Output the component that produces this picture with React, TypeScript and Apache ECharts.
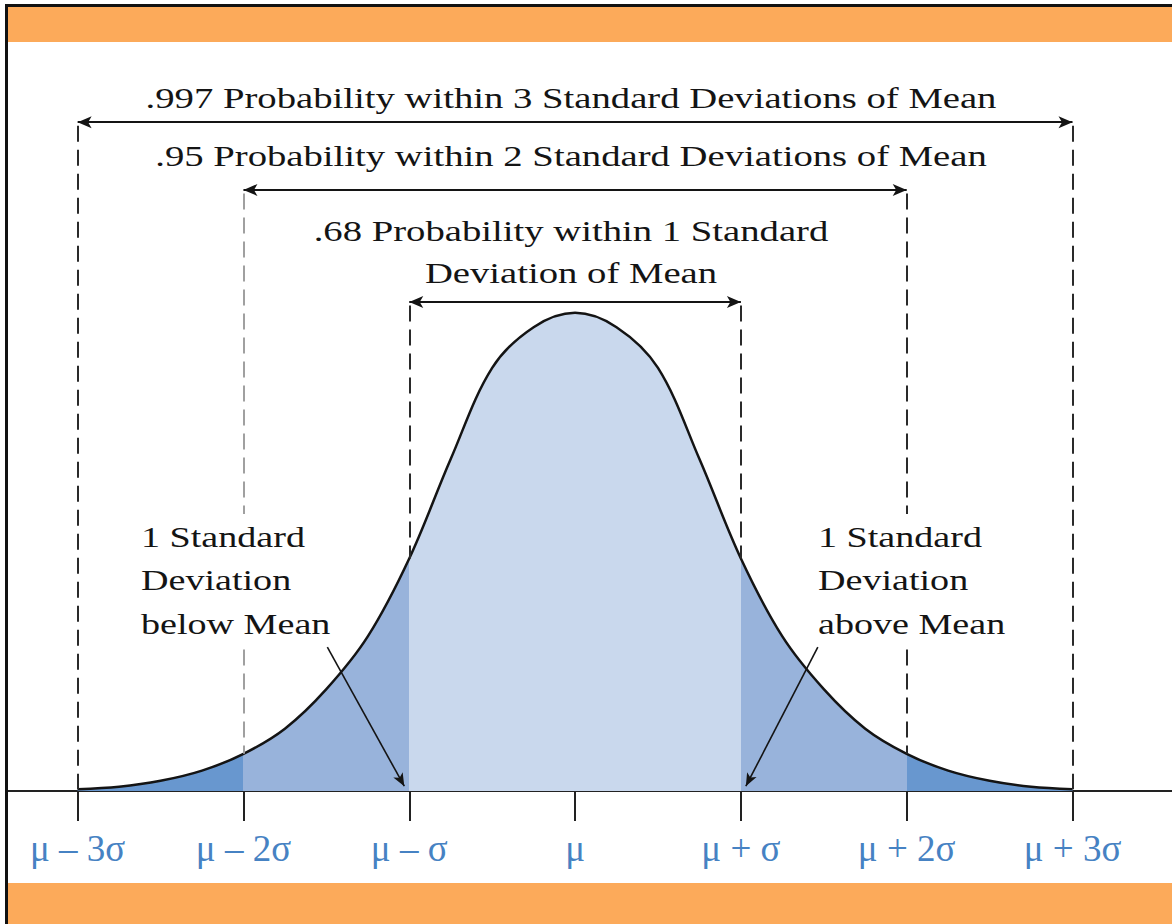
import { useEffect, useRef } from "react";
import * as echarts from "echarts";

// Curve sampled in units of standard deviations from the mean.
const SIGMA_X = [-3, -2.75, -2.5, -2.25, -2, -1.75, -1.5, -1.25, -1, -0.75, -0.5, -0.25, 0, 0.25, 0.5, 0.75, 1, 1.25, 1.5, 1.75, 2, 2.25, 2.5, 2.75, 3];
const DENSITY = [0.0015, 0.0035, 0.0085, 0.017, 0.031, 0.052, 0.085, 0.129, 0.194, 0.277, 0.353, 0.387, 0.399, 0.387, 0.353, 0.277, 0.194, 0.129, 0.085, 0.052, 0.031, 0.017, 0.0085, 0.0035, 0.0015];

const TICK_VALUES = [-3, -2, -1, 0, 1, 2, 3];
const TICK_LABELS = ["μ – 3σ", "μ – 2σ", "μ – σ", "μ", "μ + σ", "μ + 2σ", "μ + 3σ"];

// Bracketed spans: half-width in σ, arrow height, caption.
const SPAN_WIDTHS = [3, 2, 1];
const SPAN_LEVELS = [0.558, 0.5015, 0.408];
const SPAN_TITLES = [
  ".997 Probability within 3 Standard Deviations of Mean",
  ".95 Probability within 2 Standard Deviations of Mean",
  ".68 Probability within 1 Standard\nDeviation of Mean",
];

const SIDE_NOTES = ["1 Standard\nDeviation\nbelow Mean", "1 Standard\nDeviation\nabove Mean"];
const POINTER_FROM = [[-1.494, 0.12], [1.464, 0.12]];
const POINTER_TO = [[-1.03, 0.004], [1.03, 0.004]];

const AXIS_MIN = -3.42;
const AXIS_MAX = 3.6;
const Y_MAX = 0.66;

const SERIF = '"Liberation Serif", "Times New Roman", serif';
const INK = "#141414";
const ORANGE = "#fcaa5a";

export default function App() {
  const ref = useRef<HTMLDivElement>(null);

  useEffect(() => {
    if (!ref.current) return;
    const chart = echarts.init(ref.current, null, { renderer: "svg" });
    const curve = SIGMA_X.map((x, i) => [x, DENSITY[i]]);
    const heightAt = (x: number) => DENSITY[SIGMA_X.indexOf(x)];

    const markData: any[] = [];
    SPAN_WIDTHS.forEach((w, i) => {
      const lvl = SPAN_LEVELS[i];
      // double-headed arrow
      markData.push([
        { coord: [-w, lvl], symbol: "arrow", symbolSize: [9, 14], lineStyle: { type: "solid", color: INK, width: 2 } },
        { coord: [w, lvl], symbol: "arrow", symbolSize: [9, 14] },
      ]);
      // dashed guides down to the curve
      [-w, w].forEach((x) => {
        markData.push([
          {
            coord: [x, lvl - 0.003],
            symbol: "none",
            lineStyle: { type: [16, 8], color: x === -2 ? "#a0a0a0" : "#2a2a2a", width: 2 },
          },
          { coord: [x, heightAt(x)], symbol: "none" },
        ]);
      });
    });
    POINTER_FROM.forEach((p, i) => {
      markData.push([
        { coord: p, symbol: "none", lineStyle: { type: "solid", color: INK, width: 1.6 } },
        { coord: POINTER_TO[i], symbol: "arrow", symbolSize: [8, 13] },
      ]);
    });

    const titleY = [98, 156, 252];
    const graphic: any[] = [
      { type: "rect", shape: { x: 5, y: 4, width: 1167, height: 3 }, style: { fill: "#111" }, z: 20 },
      { type: "rect", shape: { x: 5, y: 4, width: 3, height: 920 }, style: { fill: "#111" }, z: 20 },
      { type: "rect", shape: { x: 8, y: 7, width: 1164, height: 35 }, style: { fill: ORANGE }, z: 20 },
      { type: "rect", shape: { x: 8, y: 883, width: 1164, height: 41 }, style: { fill: ORANGE }, z: 20 },
      ...SPAN_TITLES.map((t, i) => ({
        type: "text",
        x: 571,
        y: titleY[i],
        scaleX: 1.29,
        z: 30,
        style: { text: t, fill: INK, font: `30px ${SERIF}`, align: "center", verticalAlign: "middle", lineHeight: 42 },
      })),
      ...SIDE_NOTES.map((t, i) => ({
        type: "text",
        x: i === 0 ? 141 : 818,
        y: 580,
        scaleX: 1.27,
        z: 30,
        style: {
          text: t,
          fill: INK,
          font: `30px ${SERIF}`,
          align: "left",
          verticalAlign: "middle",
          lineHeight: 44,
          backgroundColor: "#fff",
        },
      })),
    ];

    chart.setOption({
      animation: false,
      backgroundColor: "#fff",
      grid: { left: 8, right: 0, top: 0, bottom: 133, containLabel: false },
      xAxis: {
        type: "value",
        min: AXIS_MIN,
        max: AXIS_MAX,
        splitLine: { show: false },
        axisLine: { lineStyle: { color: "#222", width: 2 } },
        axisTick: { customValues: TICK_VALUES, length: 30, lineStyle: { color: "#222", width: 2 } },
        axisLabel: {
          customValues: TICK_VALUES,
          formatter: (v: number) => {
            const k = TICK_VALUES.indexOf(Math.round(v));
            return k >= 0 ? TICK_LABELS[k] : "";
          },
          margin: 39,
          fontFamily: SERIF,
          fontSize: 37,
          color: "#4682c3",
        },
      },
      yAxis: { type: "value", min: 0, max: Y_MAX, show: false },
      visualMap: {
        type: "piecewise",
        show: false,
        dimension: 0,
        seriesIndex: 0,
        pieces: [
          { lt: -2, color: "#6897cf" },
          { gte: -2, lt: -1, color: "#98b3db" },
          { gte: -1, lte: 1, color: "#c9d8ed" },
          { gt: 1, lte: 2, color: "#98b3db" },
          { gt: 2, color: "#6897cf" },
        ],
      },
      series: [
        {
          type: "line",
          data: curve,
          smooth: 0.35,
          symbol: "none",
          silent: true,
          lineStyle: { width: 0, opacity: 0 },
          areaStyle: { opacity: 1 },
          z: 1,
        },
        {
          type: "line",
          data: curve,
          smooth: 0.35,
          symbol: "none",
          silent: true,
          lineStyle: { color: INK, width: 2.5 },
          z: 3,
          markLine: {
            silent: true,
            symbol: ["none", "none"],
            label: { show: false },
            emphasis: { disabled: true },
            data: markData,
          },
        },
      ],
      graphic,
    });
    return () => chart.dispose();
  }, []);

  return <div ref={ref} style={{ position: "fixed", left: 0, top: 0, width: 1172, height: 924 }} />;
}
